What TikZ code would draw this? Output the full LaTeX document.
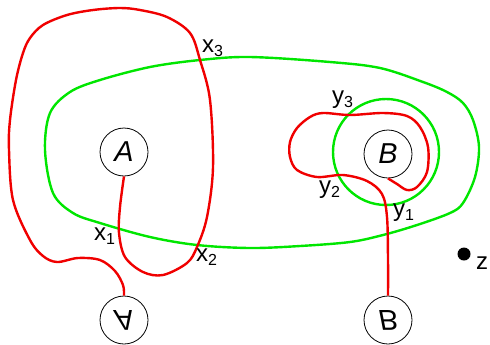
\documentclass[tikz,border=0pt]{standalone}
\usepackage{fontspec}
\setmainfont{Liberation Sans}
\usepackage{graphicx}
\usetikzlibrary{positioning}
\definecolor{cred}{RGB}{240,0,0}
\definecolor{cgreen}{RGB}{0,230,0}
\tikzset{
  pt/.style={draw, circle, minimum size=24pt, inner sep=0pt, font=\Large\itshape},
  rcrv/.style={cred, line width=1.2pt},
  gcrv/.style={cgreen, line width=1.2pt},
  lbl/.style={font=\large, inner sep=0pt},
  dotz/.style={circle, fill=black, minimum size=6.5pt, inner sep=0pt},
}

\begin{document}
\begin{tikzpicture}[x=0.5pt, y=-0.5pt]
        \useasboundingbox (0,0) rectangle (490,344);
        % points
        \node[pt] (A) at (124,152) {A};
        \node[pt] (Af) at (124,320) {\scalebox{1}[-1]{A}};
        \node[pt] (B) at (388,154) {B};
        \node[pt] (Bf) at (388,320) {\scalebox{1}[-1]{B}};
        \node[dotz] (z) at (464,254) {};
        \node[lbl] (zl) at (482,263) {z};
        % green loops
        \draw[gcrv] plot[smooth cycle, tension=0.55] coordinates {
          (250,57) (330,62) (380,68) (423,82) (447,92) (463,103) (473,120) (479,147)
          (475,177) (463,203) (450,213) (417,225) (383,235) (350,242) (300,246)
          (250,248) (197,245) (150,237) (100,223) (73,213) (53,193) (45,150)
          (50,113) (70,92) (100,80) (150,67) (200,60)};
        \draw[gcrv] (386,152) circle (53);
        % red curves
        \draw[rcrv] plot[smooth, tension=0.55] coordinates {
          (A.south) (120,207) (119,233) (125,257) (143,272) (163,275) (187,263)
          (197,247) (207,217) (213,167) (210,100) (200,60) (190,33) (167,17)
          (140,10) (120,8) (93,10) (67,15) (43,25) (30,38) (23,53) (16,80)
          (10,120) (9,150) (13,200) (30,240) (43,256) (57,262) (78,258)
          (100,260) (115,271) (123,285) (Af.north)};
        \draw[rcrv] plot[smooth, tension=0.55] coordinates {
          (B.south) (397,184) (407,190) (417,187) (427,172) (428,147) (420,127)
          (407,116) (383,113) (350,115) (323,113) (310,117) (297,128) (290,142)
          (290,157) (297,170) (317,177) (343,175) (367,181) (382,194) (387,217)
          (388,260) (Bf.north)};
        % labels
        \node[lbl] (x1) at (105,236) {x\textsubscript{1}};
        \node[lbl] (x2) at (207,257) {x\textsubscript{2}};
        \node[lbl] (x3) at (213,48) {x\textsubscript{3}};
        \node[lbl] (y1) at (404,213) {y\textsubscript{1}};
        \node[lbl] (y2) at (330,190) {y\textsubscript{2}};
        \node[lbl] (y3) at (343,100) {y\textsubscript{3}};
\end{tikzpicture}
\end{document}
